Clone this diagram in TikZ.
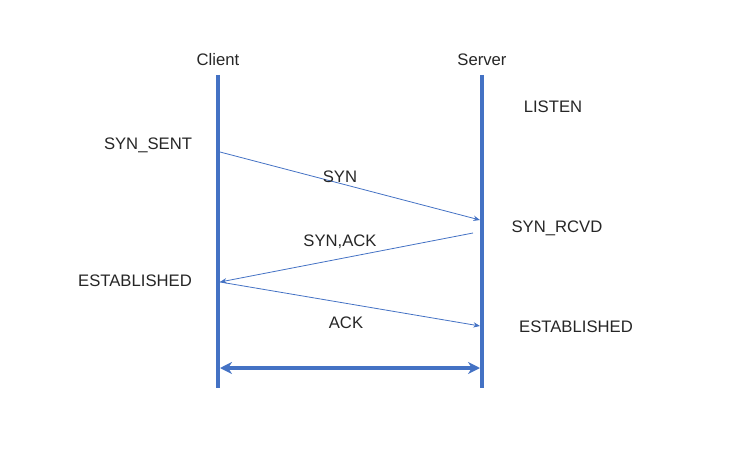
\documentclass[tikz,border=0pt]{standalone}
\usepackage{fontspec}
\setmainfont{Liberation Sans}
\usetikzlibrary{positioning,arrows.meta}

\definecolor{lineblue}{HTML}{4472C4}
\tikzset{
  lifeline/.style={draw=lineblue,line width=3.6pt},
  msg/.style={draw=lineblue,line width=0.6pt,-{Stealth[length=5pt,width=4pt]}},
  state/.style={inner sep=0pt,font=\fontsize{12.5}{15}\selectfont,text=black!85}
}

\begin{document}
\begin{tikzpicture}[x=0.75pt,y=-0.75pt]
  \useasboundingbox (0,0) rectangle (746,460);

  % lifelines
  \coordinate (ctop) at (218,75);
  \coordinate (cbot) at (218,388);
  \coordinate (stop) at (482,75);
  \coordinate (sbot) at (482,388);
  \draw[lifeline] (ctop) -- (cbot);
  \draw[lifeline] (stop) -- (sbot);

  \node[state] (client) at (218,60) {Client};
  \node[state] (server) at (482,60) {Server};

  % states
  \node[state] (listen) at (553,107) {LISTEN};
  \node[state] (synsent) at (148,145) {SYN\_SENT};
  \node[state] (synrcvd) at (557,228) {SYN\_RCVD};
  \node[state] (estc) at (135,281) {ESTABLISHED};
  \node[state] (ests) at (576,327) {ESTABLISHED};

  % handshake
  \coordinate (a1) at (220,152);
  \coordinate (b1) at (480,220);
  \coordinate (b2) at (473,233);
  \coordinate (a2) at (220,282);
  \coordinate (b3) at (480,326);
  \draw[msg] (a1) -- (b1);
  \draw[msg] (b2) -- (a2);
  \draw[msg] (a2) -- (b3);
  \node[state] (syn) at (340,177) {SYN};
  \node[state] (synack) at (340,242) {SYN,ACK};
  \node[state] (ack) at (346,323) {ACK};

  % connection
  \coordinate (dl) at (220,368);
  \coordinate (dr) at (480,368);
  \draw[draw=lineblue,line width=3.6pt,{Stealth[length=9pt,width=9pt]}-{Stealth[length=9pt,width=9pt]}] (dl) -- (dr);
\end{tikzpicture}
\end{document}
